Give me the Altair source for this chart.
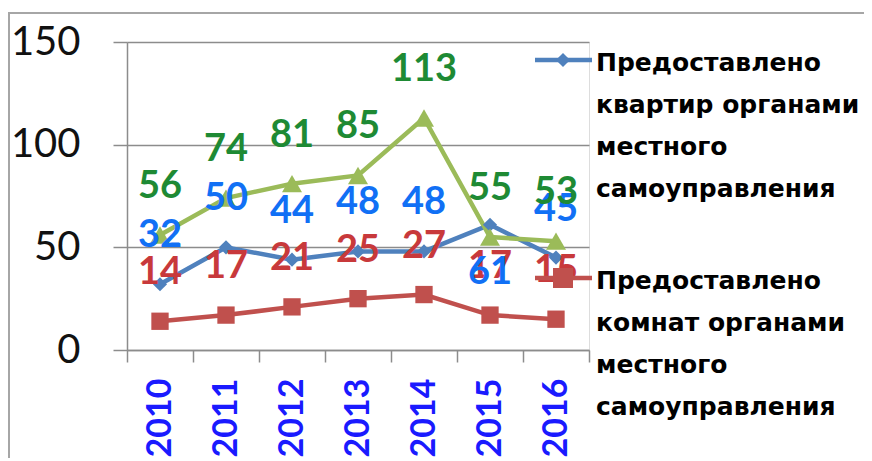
import altair as alt
import pandas as pd

years = ["2010", "2011", "2012", "2013", "2014", "2015", "2016"]
apartments = [32, 50, 44, 48, 48, 61, 45]
rooms = [14, 17, 21, 25, 27, 17, 15]
third = [56, 74, 81, 85, 113, 55, 53]

series_names = [
    "Предоставлено квартир органами местного самоуправления",
    "Предоставлено комнат органами местного самоуправления",
    "Ряд 3",
]
legend_text = [
    "Предоставлено\nквартир органами\nместного\nсамоуправления",
    "Предоставлено\nкомнат органами\nместного\nсамоуправления",
]
line_colors = ["#4F81BD", "#C0504D", "#9BBB59"]
label_colors = ["#1170F5", "#C8393B", "#1E8A34"]
shapes = ["diamond", "square", "triangle-up"]
sizes = [200, 400, 260]

rows = []
for name, vals in zip(series_names, [apartments, rooms, third]):
    for y, v in zip(years, vals):
        rows.append({"year": y, "value": v, "series": name})
df = pd.DataFrame(rows)

W, H = 462, 308
GRAY = "#8c8c8c"

x_enc = alt.X(
    "year:O",
    scale=alt.Scale(type="band", paddingInner=0, paddingOuter=0),
    axis=alt.Axis(
        title=None, labelAngle=-90, labelFont="Lato", labelFontSize=34,
        labelFontWeight="bold", labelColor="#1a1aff", tickBand="extent",
        ticks=True, tickSize=12, tickColor=GRAY, tickWidth=1.5,
        domainColor=GRAY, domainWidth=1.5, labelPadding=16, grid=False,
    ),
)
y_enc = alt.Y(
    "value:Q",
    scale=alt.Scale(domain=[0, 150], nice=False),
    axis=alt.Axis(
        values=[0, 50, 100, 150], title=None, grid=True, gridColor=GRAY,
        gridWidth=1.5, tickSize=14, tickColor=GRAY, tickWidth=1.5,
        labelFontSize=40, labelFont="Lato", labelColor="#111111",
        labelPadding=33, domainColor=GRAY, domainWidth=1.5,
    ),
)
color_enc = alt.Color("series:N", scale=alt.Scale(domain=series_names, range=line_colors), legend=None)

base = alt.Chart(df)

lines = base.mark_line(strokeWidth=4.5).encode(x=x_enc, y=y_enc, color=color_enc)
points = base.mark_point(filled=True, opacity=1).encode(
    x=x_enc, y=y_enc, color=color_enc,
    shape=alt.Shape("series:N", scale=alt.Scale(domain=series_names, range=shapes), legend=None),
    size=alt.Size("series:N", scale=alt.Scale(domain=series_names, range=sizes), legend=None),
)
fill_enc = alt.Fill("series:N", scale=alt.Scale(domain=series_names, range=label_colors), legend=None)
is_low = (alt.datum.series == series_names[0]) & (alt.datum.year == "2015")
labels_up = base.transform_filter(~is_low).mark_text(
    dy=-48, fontSize=38, font="Lato", fontWeight="bold", baseline="middle"
).encode(x=x_enc, y=y_enc, text="value:Q", fill=fill_enc)
labels_down = base.transform_filter(is_low).mark_text(
    dy=48, fontSize=38, font="Lato", fontWeight="bold", baseline="middle"
).encode(x=x_enc, y=y_enc, text="value:Q", fill=fill_enc)

one = pd.DataFrame({"k": [0]})
frame = alt.Chart(one).mark_rect(fill="transparent", stroke="#a6a6a6", strokeWidth=2).encode(
    x=alt.value(-118), x2=alt.value(900), y=alt.value(-29), y2=alt.value(700)
)

legend_layers = []
for i in range(2):
    ly = 18 + 218 * i
    legend_layers.append(
        alt.Chart(one).mark_rule(strokeWidth=4.5, color=line_colors[i]).encode(
            x=alt.value(408), x2=alt.value(465), y=alt.value(ly)
        )
    )
    legend_layers.append(
        alt.Chart(one).mark_point(filled=True, opacity=1, shape=shapes[i], size=sizes[i], color=line_colors[i]).encode(
            x=alt.value(436), y=alt.value(ly)
        )
    )
    legend_layers.append(
        alt.Chart(one).mark_text(
            align="left", baseline="alphabetic", font="DejaVu Sans", fontWeight="bold",
            fontSize=25, lineBreak="\n", lineHeight=42, color="#000000",
        ).encode(x=alt.value(469), y=alt.value(ly + 11), text=alt.value(legend_text[i]))
    )

chart = alt.layer(frame, lines, points, labels_up, labels_down, *legend_layers).properties(
    width=W, height=H,
    autosize=alt.AutoSizeParams(type="none"),
    padding={"left": 119, "top": 34, "right": 275, "bottom": 108},
).configure_view(stroke=None).configure(background="white")

chart.save("out.html", embed_options={"renderer": "svg", "actions": False})
